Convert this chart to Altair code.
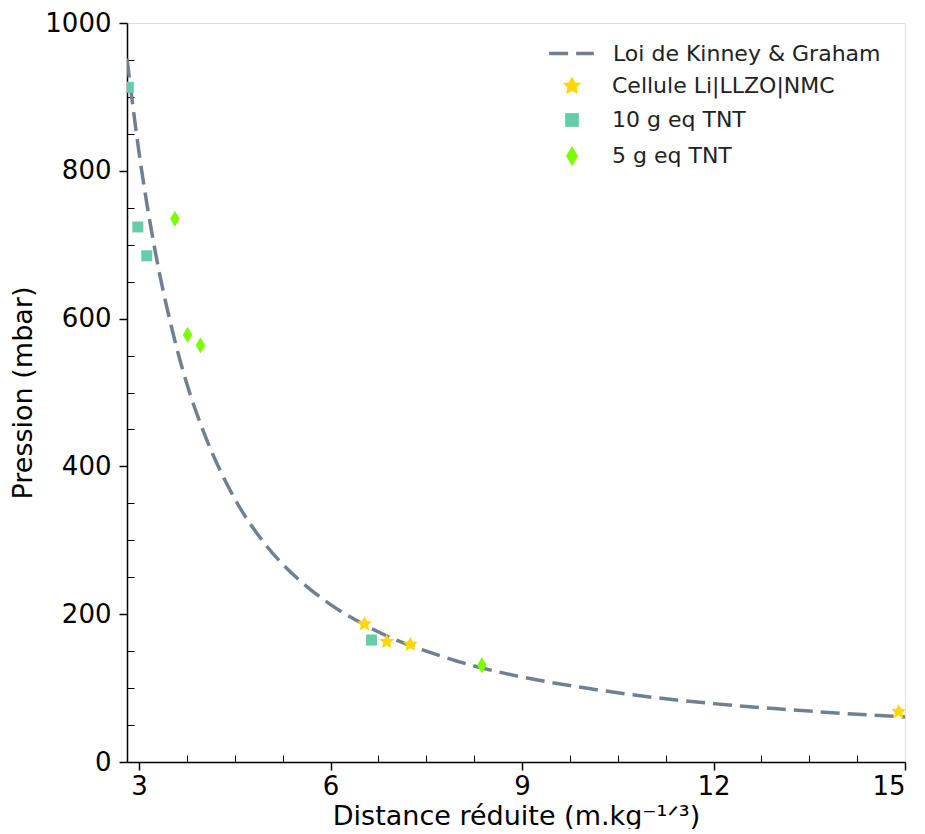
import altair as alt
import pandas as pd

# ---- data ----
courbe_x = [2.81, 3.0, 3.25, 3.5, 3.75, 4.0, 4.5, 5.0, 5.5, 6.0, 6.5, 7.0, 7.5, 8.0, 9.0, 10.0, 11.0, 12.0, 13.0, 14.0, 15.0]
courbe_y = [952, 824, 692, 591, 511, 449, 356, 292, 247, 213, 187, 166, 150, 136, 115, 100, 88, 79, 72, 66, 61]
nom_courbe = "Loi de Kinney & Graham"

cellule_x = [6.53, 6.88, 7.25, 14.90]
cellule_y = [187, 163, 159, 68]
tnt10_x = [2.83, 2.98, 3.12, 6.64]
tnt10_y = [913, 724, 685, 165]
tnt5_x = [3.56, 3.76, 3.96, 8.37]
tnt5_y = [735, 578, 564, 131]

series = ["Cellule Li|LLZO|NMC", "10 g eq TNT", "5 g eq TNT"]
couleurs = ["#FFD700", "#66CDAA", "#7CFC00"]

x_major = [3, 6, 9, 12, 15]
x_minor = [3.75, 4.5, 5.25, 6.75, 7.5, 8.25, 9.75, 10.5, 11.25, 12.75, 13.5, 14.25]
y_major = [0, 200, 400, 600, 800, 1000]
y_minor = [50, 100, 150, 250, 300, 350, 450, 500, 550, 650, 700, 750, 850, 900, 950]

# ---- tables ----
df_courbe = pd.DataFrame({"x": courbe_x, "y": courbe_y, "nom": nom_courbe})
rows = []
for nom, xs, ys in [(series[0], cellule_x, cellule_y), (series[1], tnt10_x, tnt10_y), (series[2], tnt5_x, tnt5_y)]:
    for a, b in zip(xs, ys):
        rows.append({"x": a, "y": b, "serie": nom})
df_pts = pd.DataFrame(rows)

W, H = 778, 739
FONT = "DejaVu Sans"

star = ("M0,-0.95 L0.3,-0.36 L0.92,-0.3 L0.46,0.14 L0.58,0.8 L0,0.48 "
        "L-0.58,0.8 L-0.46,0.14 L-0.92,-0.3 L-0.3,-0.36 Z")
square = "M-0.69,-0.69 L0.69,-0.69 L0.69,0.69 L-0.69,0.69 Z"
diamond = "M0,-1 L0.6,0 L0,1 L-0.6,0 Z"

xscale = alt.Scale(domain=[2.81, 15], nice=False, zero=False)
yscale = alt.Scale(domain=[0, 1000], nice=False, zero=False)

ligne = alt.Chart(df_courbe).mark_line(
    color="#708090", strokeWidth=3.5, interpolate="monotone", clip=True
).encode(
    x=alt.X("x:Q", scale=xscale, axis=alt.Axis(
        values=x_major, orient="bottom", title="Distance réduite (m.kg⁻¹ᐟ³)",
        tickSize=8, tickWidth=1.5, tickColor="black", domainColor="black", domainWidth=1.5,
        labelFontSize=26, labelFont=FONT, labelColor="black", labelPadding=3,
        titleFontSize=27, titleFont=FONT, titleFontWeight="normal", titleColor="black",
        titlePadding=4, grid=False, format="d")),
    y=alt.Y("y:Q", scale=yscale, axis=alt.Axis(
        values=y_major, orient="left", title="Pression (mbar)",
        tickSize=8, tickWidth=1.5, tickColor="black", domainColor="black", domainWidth=1.5,
        labelFontSize=26, labelFont=FONT, labelColor="black", labelPadding=8,
        titleFontSize=27, titleFont=FONT, titleFontWeight="normal", titleColor="black",
        titlePadding=7, grid=False, format="d")),
    strokeDash=alt.StrokeDash("nom:N", scale=alt.Scale(domain=[nom_courbe], range=[[19, 8]]),
        legend=alt.Legend(orient="none", legendX=420, legendY=6, title=None, padding=0,
                          symbolType="stroke", symbolSize=2000, symbolStrokeColor="#708090",
                          symbolStrokeWidth=3.5, labelFont=FONT, labelFontSize=22, labelLimit=0,
                          labelColor="#222222", labelOffset=17)),
)

points = alt.Chart(df_pts).mark_point(filled=True, opacity=1, size=256, clip=True).encode(
    x=alt.X("x:Q", scale=xscale, axis=alt.Axis(
        values=x_minor, orient="top", offset=-H, labels=False, domain=False,
        tickSize=7, tickWidth=1, tickColor="black", title=None, grid=False)),
    y=alt.Y("y:Q", scale=yscale, axis=alt.Axis(
        values=y_minor, orient="right", offset=-W, labels=False, domain=False,
        tickSize=7, tickWidth=1, tickColor="black", title=None, grid=False)),
    color=alt.Color("serie:N", scale=alt.Scale(domain=series, range=couleurs),
        legend=alt.Legend(orient="none", legendX=434, legendY=52, title=None, padding=0,
                          symbolSize=400, labelFont=FONT, labelFontSize=22, labelLimit=0,
                          labelColor="#222222", labelOffset=29, rowPadding=12, symbolOpacity=1)),
    shape=alt.Shape("serie:N", scale=alt.Scale(domain=series, range=[star, square, diamond])),
)

chart = alt.layer(ligne, points).resolve_axis(
    x="independent", y="independent"
).properties(
    width=W, height=H, padding={"left": 1, "top": 2, "right": 5, "bottom": 0}
).configure_view(
    stroke="black", strokeWidth=1.5
).configure(background="white")

chart.save("out.html", embed_options={"renderer": "svg", "actions": False})
